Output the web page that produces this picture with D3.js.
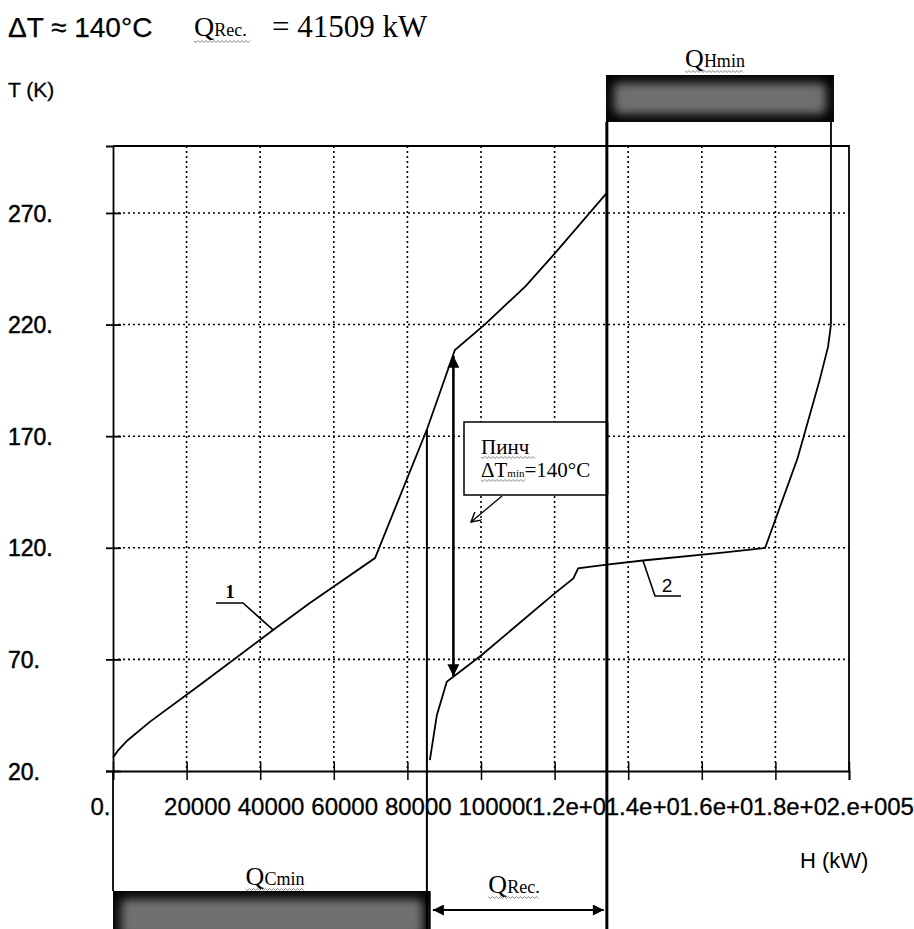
<!DOCTYPE html>
<html>
<head>
<meta charset="utf-8">
<script src="https://cdn.jsdelivr.net/npm/d3@7"></script>
<style>
  body { margin: 0; background: #fff; }
  svg { display: block; }
  .sans { font-family: "Liberation Sans", Arial, sans-serif; }
  .serif { font-family: "Liberation Serif", "Times New Roman", serif; }
</style>
</head>
<body>
<svg id="chart" width="914" height="929"></svg>
<script>
// кривые (H в кВт, T в K)
const hotH = [0, 1500, 4000, 10000, 23600, 43500, 53500, 71200, 85300, 92900, 101000, 112000, 119600, 134200];
const hotT = [26, 29.5, 33.8, 42, 58.5, 83.2, 95.3, 115.4, 173, 208.6, 220, 237, 251, 279];
const coldH = [86100, 88000, 90700, 100200, 120100, 125100, 126400, 131000, 134200, 144000, 165000, 177200, 186000, 192000, 194300, 195100];
const coldT = [24.9, 45, 60, 72, 99.7, 106.3, 110.8, 111.8, 112.5, 114.3, 117.7, 119.9, 160, 195, 210, 220];

const xTicks = [0, 20000, 40000, 60000, 80000, 100000, 120000, 140000, 160000, 180000, 200000];
const xTickLabels = ["0.", "20000", "40000", "60000", "80000", "100000", "1.2e+005", "1.4e+005", "1.6e+005", "1.8e+005", "2.e+005"];
const yTicks = [20, 70, 120, 170, 220, 270];
const yTickLabels = ["20.", "70.", "120.", "170.", "220.", "270."];

const dTmin = 140;
const qRec = 41509;
const qcEndH = 85300;      // граница QCmin
const pinchH = 92500;      // двойная стрелка
const pinchTop = 206, pinchBottom = 62.5;

const svg = d3.select("#chart");
const x = d3.scaleLinear().domain([0, 200000]).range([113, 849]);
const y = d3.scaleLinear().domain([20, 300]).range([771, 146]);

const defs = svg.append("defs");

// маркеры стрелок
defs.append("marker").attr("id", "tri").attr("viewBox", "0 0 10 10")
  .attr("refX", 10).attr("refY", 5).attr("markerUnits", "userSpaceOnUse")
  .attr("markerWidth", 13).attr("markerHeight", 12).attr("orient", "auto-start-reverse")
  .append("path").attr("d", "M0,0L10,5L0,10z").attr("fill", "#000");
defs.append("marker").attr("id", "triSmall").attr("viewBox", "0 0 10 10")
  .attr("refX", 10).attr("refY", 5).attr("markerUnits", "userSpaceOnUse")
  .attr("markerWidth", 14).attr("markerHeight", 11).attr("orient", "auto-start-reverse")
  .append("path").attr("d", "M0,0L10,5L0,10z").attr("fill", "#000");
defs.append("marker").attr("id", "open").attr("viewBox", "0 0 10 10")
  .attr("refX", 9).attr("refY", 5).attr("markerUnits", "userSpaceOnUse")
  .attr("markerWidth", 11).attr("markerHeight", 11).attr("orient", "auto")
  .append("path").attr("d", "M0,0L9,5L0,10").attr("fill", "none").attr("stroke", "#000").attr("stroke-width", 1.3);

defs.append("filter").attr("id", "blur").attr("x", "-20%").attr("y", "-50%").attr("width", "140%").attr("height", "200%")
  .append("feGaussianBlur").attr("stdDeviation", 5);

// затемнённые полосы QHmin / QCmin
function shadedBar(id, x0, y0, x1, y1) {
  defs.append("clipPath").attr("id", id)
    .append("rect").attr("x", x0).attr("y", y0).attr("width", x1 - x0).attr("height", y1 - y0);
  const g = svg.append("g").attr("clip-path", `url(#${id})`);
  g.append("rect").attr("x", x0).attr("y", y0).attr("width", x1 - x0).attr("height", y1 - y0).attr("fill", "#050505");
  g.append("rect").attr("x", x0 + 8).attr("y", y0 + 8).attr("width", x1 - x0 - 16).attr("height", y1 - y0 - 16)
    .attr("rx", 6).attr("fill", "#707070").attr("filter", "url(#blur)");
}

function wavy(x0, x1, yy) {
  let d = `M${x0},${yy}`;
  for (let xx = x0 + 2; xx <= x1; xx += 2) d += `L${xx},${yy + ((xx - x0) / 2 % 2 ? 1.5 : -0.5)}`;
  svg.append("path").attr("d", d).attr("fill", "none").attr("stroke", "#666").attr("stroke-width", 0.8);
}

// сетка
svg.append("g").selectAll("line").data(xTicks.slice(1, -1)).join("line")
  .attr("x1", d => x(d)).attr("x2", d => x(d)).attr("y1", y(300)).attr("y2", y(20))
  .attr("stroke", "#000").attr("stroke-width", 1.6).attr("stroke-dasharray", "2,3");
svg.append("g").selectAll("line").data(yTicks.slice(1)).join("line")
  .attr("x1", x(0)).attr("x2", x(200000)).attr("y1", d => y(d)).attr("y2", d => y(d))
  .attr("stroke", "#000").attr("stroke-width", 1.6).attr("stroke-dasharray", "2,3");

// оси
const xAxis = svg.append("g").attr("transform", `translate(0,${y(20)})`)
  .call(d3.axisBottom(x).tickValues(xTicks).tickFormat((d, i) => xTickLabels[i]).tickSizeOuter(0).tickSize(9));
xAxis.select(".domain").attr("stroke-width", 1.8);
xAxis.selectAll(".tick line").attr("y1", -9).attr("y2", 9).attr("stroke-width", 1.5);
xAxis.selectAll(".tick text")
  .attr("class", "sans").attr("font-size", 24).attr("fill", "#000")
  .attr("text-anchor", "start").attr("x", -23).attr("y", 44).attr("dy", 0)
  .attr("stroke", "#000").attr("stroke-width", 0.3);
xAxis.selectAll(".tick").each(function () {
  const t = d3.select(this).select("text");
  const b = t.node().getBBox();
  d3.select(this).insert("rect", "text").attr("x", b.x).attr("y", b.y)
    .attr("width", b.width).attr("height", b.height).attr("fill", "#fff");
});

const yAxis = svg.append("g").attr("transform", `translate(${x(0)},0)`)
  .call(d3.axisLeft(y).tickValues(yTicks).tickFormat((d, i) => yTickLabels[i]).tickSizeOuter(0).tickSize(7));
yAxis.select(".domain").attr("stroke-width", 1.8);
yAxis.selectAll(".tick line").attr("x1", -7).attr("x2", 8).attr("stroke-width", 1.8);
yAxis.selectAll(".tick text")
  .attr("class", "sans").attr("font-size", 23).attr("fill", "#000")
  .attr("text-anchor", "start").attr("x", 8 - x(0)).attr("dy", "0.35em")
  .attr("stroke", "#000").attr("stroke-width", 0.5);

// рамка
svg.append("path").attr("d", `M${x(0)},${y(300)}H${x(200000)}V${y(20)}`)
  .attr("fill", "none").attr("stroke", "#000").attr("stroke-width", 1.8);

// кривые
const line = d3.line().x(d => x(d[0])).y(d => y(d[1]));
svg.append("path").datum(hotH.map((h, i) => [h, hotT[i]])).attr("d", line)
  .attr("fill", "none").attr("stroke", "#000").attr("stroke-width", 1.8);
svg.append("path").datum(coldH.map((h, i) => [h, coldT[i]])).attr("d", line)
  .attr("fill", "none").attr("stroke", "#000").attr("stroke-width", 1.8);

// полосы
const hotEndH = hotH[hotH.length - 1];
const coldEndH = coldH[coldH.length - 1];
const qcIdx = hotH.indexOf(qcEndH);
shadedBar("qh", x(hotEndH) - 1, 75, x(coldEndH) + 3, 122);
shadedBar("qc", x(0), 891, x(coldH[0]) + 1, 945);

// вертикальные границы
svg.append("line").attr("x1", x(0)).attr("x2", x(0)).attr("y1", y(20)).attr("y2", 891)
  .attr("stroke", "#000").attr("stroke-width", 1.8);
svg.append("line").attr("x1", x(qcEndH)).attr("x2", x(qcEndH)).attr("y1", y(hotT[qcIdx])).attr("y2", 929)
  .attr("stroke", "#000").attr("stroke-width", 2);
svg.append("line").attr("x1", x(hotEndH)).attr("x2", x(hotEndH)).attr("y1", 122).attr("y2", 929)
  .attr("stroke", "#000").attr("stroke-width", 3);
svg.append("line").attr("x1", x(coldEndH)).attr("x2", x(coldEndH)).attr("y1", 122).attr("y2", y(coldT[coldT.length - 1]))
  .attr("stroke", "#000").attr("stroke-width", 1.8);

// двойная стрелка пинча
svg.append("line").attr("x1", x(pinchH)).attr("x2", x(pinchH)).attr("y1", y(pinchTop)).attr("y2", y(pinchBottom))
  .attr("stroke", "#000").attr("stroke-width", 2.6)
  .attr("marker-start", "url(#tri)").attr("marker-end", "url(#tri)");

// стрелка QRec
svg.append("line").attr("x1", x(qcEndH) + 6).attr("x2", x(hotEndH) - 3).attr("y1", 910).attr("y2", 910)
  .attr("stroke", "#000").attr("stroke-width", 1.8)
  .attr("marker-start", "url(#triSmall)").attr("marker-end", "url(#triSmall)");

// рамка пинча
svg.append("rect").attr("x", 464).attr("y", 422).attr("width", x(hotEndH) - 464).attr("height", 73)
  .attr("fill", "#fff").attr("stroke", "#000").attr("stroke-width", 1.5);
svg.append("line").attr("x1", x(hotEndH)).attr("x2", x(hotEndH)).attr("y1", 422).attr("y2", 495)
  .attr("stroke", "#000").attr("stroke-width", 3);
svg.append("text").attr("class", "serif").attr("x", 481).attr("y", 454).attr("font-size", 21).text("Пинч");
wavy(481, 535, 457);
const pt = svg.append("text").attr("class", "serif").attr("x", 481).attr("y", 477).attr("font-size", 21);
pt.append("tspan").text("ΔT");
pt.append("tspan").attr("font-size", 11).text("min");
pt.append("tspan").text(`=${dTmin}°C`);
wavy(481, 525, 480);
svg.append("line").attr("x1", 502).attr("y1", 496).attr("x2", 471).attr("y2", 522)
  .attr("stroke", "#000").attr("stroke-width", 1.3).attr("marker-end", "url(#open)");

// подписи кривых
svg.append("text").attr("class", "serif").attr("x", 230).attr("y", 598).attr("font-size", 19)
  .attr("text-anchor", "middle").attr("font-weight", "bold").text("1");
svg.append("path").attr("d", `M216,603H243L${x(hotH[5])},${y(hotT[5])}`)
  .attr("fill", "none").attr("stroke", "#000").attr("stroke-width", 1.6);
svg.append("text").attr("class", "sans").attr("x", 667).attr("y", 592).attr("font-size", 19)
  .attr("text-anchor", "middle").text("2");
svg.append("path").attr("d", `M${x(coldH[9])},${y(coldT[9])}L655,596H681`)
  .attr("fill", "none").attr("stroke", "#000").attr("stroke-width", 1.6);

// заголовок
svg.append("text").attr("class", "sans").attr("x", 8).attr("y", 37).attr("font-size", 28)
  .attr("stroke", "#000").attr("stroke-width", 0.25).text(`ΔT ≈ ${dTmin}°C`);
const qt = svg.append("text").attr("class", "serif").attr("x", 194).attr("y", 36);
qt.append("tspan").attr("font-size", 28).text("Q");
qt.append("tspan").attr("font-size", 18).text("Rec.");
wavy(194, 250, 41);
svg.append("text").attr("class", "serif").attr("x", 272).attr("y", 37).attr("font-size", 31)
  .text(`= ${qRec} kW`);

svg.append("text").attr("class", "sans").attr("x", 8).attr("y", 97).attr("font-size", 21)
  .attr("stroke", "#000").attr("stroke-width", 0.3).text("T (K)");
svg.append("text").attr("class", "sans").attr("x", 800).attr("y", 868).attr("font-size", 22)
  .text("H (kW)");

// подписи полос
function qLabel(cx, by, sub) {
  const t = svg.append("text").attr("class", "serif").attr("x", cx).attr("y", by).attr("text-anchor", "middle");
  t.append("tspan").attr("font-size", 26).text("Q");
  t.append("tspan").attr("font-size", 18).text(sub);
  const b = t.node().getBBox();
  wavy(b.x, b.x + b.width, by + 4);
}
qLabel(715, 67, "Hmin");
qLabel(275, 885, "Cmin");
qLabel(514, 893, "Rec.");
</script>
</body>
</html>
